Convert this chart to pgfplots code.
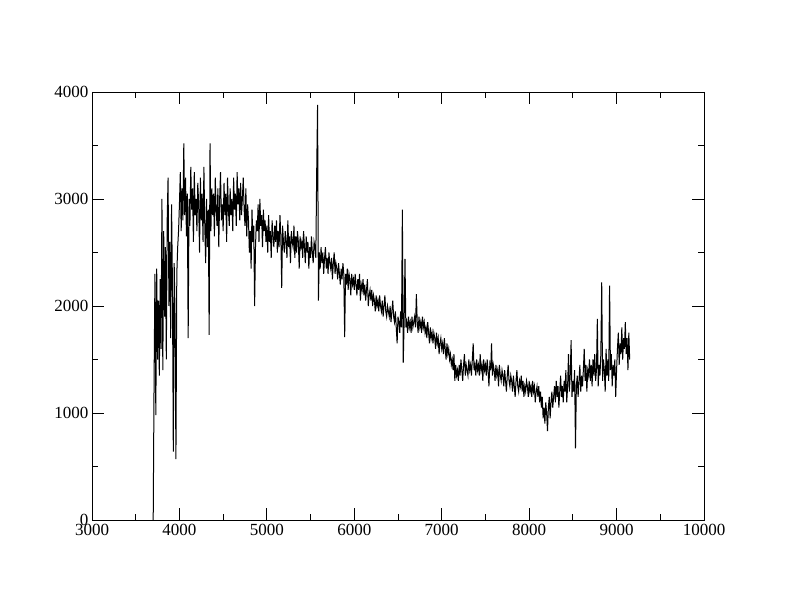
\documentclass[border=0pt]{standalone}
\usepackage{pgfplots}
\pgfplotsset{compat=1.18}
\usepackage{fontspec}
\setmainfont{Liberation Serif}
\begin{document}
\begin{tikzpicture}[x=1pt,y=1pt]
\useasboundingbox (0,0) rectangle (792,612);
\begin{axis}[
  at={(92pt,92pt)}, anchor=south west,
  scale only axis, width=612pt, height=428pt,
  xmin=3000, xmax=10000, ymin=0, ymax=4000,
  xtick={3000,4000,...,10000}, ytick={0,1000,...,4000},
  minor x tick num=1, minor y tick num=1,
  tick align=inside, tick pos=both,
  major tick length=12pt, minor tick length=6pt,
  axis line style={line width=0.8pt}, every tick/.style={black,line width=0.8pt},
  /pgf/number format/assume math mode=true,
  /pgf/number format/set thousands separator={},
  tick label style={font=\fontsize{17}{17}\selectfont, black},
  xticklabel style={yshift=-1pt},
  yticklabel style={xshift=0pt},
  scaled ticks=false,
]
\addplot[black, line width=1pt, mark=none] coordinates {
(3700,0) (3710,1300) (3720,2300) (3730,980) (3740,2350) (3750,1500) (3760,2050) (3770,1350) (3780,2250) (3790,1600)
(3800,3000) (3810,1400) (3820,2700) (3830,1900) (3840,2550) (3850,1500) (3860,2800) (3870,3200) (3880,2000) (3890,2600)
(3900,1700) (3910,2950) (3920,2200) (3930,640) (3940,2400) (3950,1900) (3960,570) (3970,2300) (3980,2550) (3990,2700)
(4000,2950) (4010,3250) (4020,2700) (4030,3100) (4040,2800) (4050,3520) (4060,2850) (4070,3200) (4080,2650) (4090,3050)
(4100,1700) (4110,3000) (4120,2750) (4130,3300) (4140,2900) (4150,3100) (4160,2600) (4170,3250) (4180,2850) (4190,3000)
(4200,2700) (4210,3150) (4220,2950) (4230,2500) (4240,3200) (4250,2800) (4260,3050) (4270,2600) (4280,3300) (4290,2750)
(4300,2400) (4310,3000) (4320,2550) (4330,2900) (4340,1730) (4350,3520) (4360,2700) (4370,3100) (4380,2850) (4390,3050)
(4400,2650) (4410,3200) (4420,2900) (4430,2750) (4440,3100) (4450,2550) (4460,3000) (4470,3250) (4480,2800) (4490,2950)
(4500,2700) (4510,3150) (4520,2850) (4530,3050) (4540,2600) (4550,3200) (4560,2900) (4570,2750) (4580,3100) (4590,2850)
(4600,3000) (4610,2700) (4620,3200) (4630,2900) (4640,3050) (4650,2750) (4660,3250) (4670,2950) (4680,3100) (4690,2800)
(4700,3150) (4710,2850) (4720,3000) (4730,3200) (4740,2900) (4750,2750) (4760,3100) (4770,2650) (4780,2950) (4790,2800)
(4800,2500) (4810,2700) (4820,2350) (4830,2900) (4840,2600) (4850,2750) (4860,2000) (4870,2550) (4880,2800) (4890,2700)
(4900,2950) (4910,2600) (4920,3000) (4930,2750) (4940,2850) (4950,2550) (4960,2900) (4970,2700) (4980,2800) (4990,2600)
(5000,2750) (5010,2500) (5020,2850) (5030,2600) (5040,2700) (5050,2450) (5060,2800) (5070,2650) (5080,2550) (5090,2750)
(5100,2600) (5110,2800) (5120,2500) (5130,2700) (5140,2550) (5150,2850) (5160,2650) (5170,2170) (5180,2750) (5190,2600)
(5200,2500) (5210,2700) (5220,2600) (5230,2450) (5240,2800) (5250,2550) (5260,2650) (5270,2400) (5280,2700) (5290,2600)
(5300,2550) (5310,2750) (5320,2450) (5330,2650) (5340,2500) (5350,2700) (5360,2600) (5370,2350) (5380,2650) (5390,2550)
(5400,2600) (5410,2450) (5420,2700) (5430,2550) (5440,2400) (5450,2650) (5460,2500) (5470,2600) (5480,2350) (5490,2550)
(5500,2450) (5510,2650) (5520,2500) (5530,2400) (5540,2600) (5550,2550) (5560,2450) (5570,3250) (5580,3880) (5590,2050)
(5600,2500) (5610,2350) (5620,2550) (5630,2400) (5640,2500) (5650,2300) (5660,2450) (5670,2550) (5680,2350) (5690,2450)
(5700,2300) (5710,2500) (5720,2400) (5730,2350) (5740,2450) (5750,2250) (5760,2400) (5770,2500) (5780,2300) (5790,2400)
(5800,2350) (5810,2250) (5820,2400) (5830,2300) (5840,2200) (5850,2350) (5860,2250) (5870,2400) (5880,2300) (5890,1710)
(5900,2300) (5910,2200) (5920,2350) (5930,2150) (5940,2300) (5950,2250) (5960,2100) (5970,2300) (5980,2200) (5990,2250)
(6000,2150) (6010,2300) (6020,2200) (6030,2100) (6040,2250) (6050,2150) (6060,2300) (6070,2050) (6080,2200) (6090,2150)
(6100,2250) (6110,2100) (6120,2200) (6130,2050) (6140,2150) (6150,2250) (6160,2000) (6170,2100) (6180,2150) (6190,2050)
(6200,2150) (6210,2000) (6220,2100) (6230,2050) (6240,1950) (6250,2100) (6260,2000) (6270,2050) (6280,1950) (6290,2100)
(6300,2000) (6310,1950) (6320,2050) (6330,1900) (6340,2000) (6350,2100) (6360,1950) (6370,1900) (6380,2000) (6390,1950)
(6400,1900) (6410,2000) (6420,1850) (6430,1950) (6440,2050) (6450,1900) (6460,1850) (6470,1950) (6480,1800) (6490,1650)
(6500,1900) (6510,1850) (6520,1750) (6530,1950) (6540,1800) (6550,2900) (6560,1470) (6570,1850) (6580,2440) (6590,1800)
(6600,1850) (6610,1750) (6620,1900) (6630,1800) (6640,1850) (6650,1750) (6660,1900) (6670,1800) (6680,1850) (6690,1900)
(6700,1800) (6710,2110) (6720,1850) (6730,1750) (6740,1900) (6750,1800) (6760,1850) (6770,1750) (6780,1900) (6790,1800)
(6800,1850) (6810,1750) (6820,1800) (6830,1700) (6840,1850) (6850,1750) (6860,1650) (6870,1800) (6880,1700) (6890,1750)
(6900,1650) (6910,1750) (6920,1700) (6930,1600) (6940,1750) (6950,1650) (6960,1700) (6970,1550) (6980,1650) (6990,1700)
(7000,1600) (7010,1650) (7020,1550) (7030,1700) (7040,1600) (7050,1500) (7060,1650) (7070,1550) (7080,1600) (7090,1500)
(7100,1550) (7110,1450) (7120,1500) (7130,1400) (7140,1550) (7150,1300) (7160,1450) (7170,1350) (7180,1400) (7190,1300)
(7200,1450) (7210,1350) (7220,1500) (7230,1400) (7240,1300) (7250,1450) (7260,1550) (7270,1350) (7280,1450) (7290,1400)
(7300,1350) (7310,1500) (7320,1400) (7330,1450) (7340,1350) (7350,1500) (7360,1650) (7370,1400) (7380,1450) (7390,1350)
(7400,1500) (7410,1400) (7420,1450) (7430,1350) (7440,1550) (7450,1400) (7460,1450) (7470,1300) (7480,1500) (7490,1400)
(7500,1450) (7510,1350) (7520,1500) (7530,1400) (7540,1250) (7550,1450) (7560,1400) (7570,1650) (7580,1350) (7590,1450)
(7600,1400) (7610,1300) (7620,1450) (7630,1350) (7640,1400) (7650,1250) (7660,1450) (7670,1350) (7680,1300) (7690,1400)
(7700,1350) (7710,1250) (7720,1400) (7730,1300) (7740,1200) (7750,1350) (7760,1450) (7770,1300) (7780,1250) (7790,1350)
(7800,1300) (7810,1200) (7820,1350) (7830,1250) (7840,1150) (7850,1300) (7860,1400) (7870,1250) (7880,1200) (7890,1300)
(7900,1250) (7910,1350) (7920,1200) (7930,1300) (7940,1150) (7950,1250) (7960,1200) (7970,1300) (7980,1250) (7990,1150)
(8000,1300) (8010,1200) (8020,1250) (8030,1150) (8040,1300) (8050,1200) (8060,1250) (8070,1100) (8080,1200) (8090,1250)
(8100,1150) (8110,1250) (8120,1100) (8130,1200) (8140,1050) (8150,1150) (8160,950) (8170,1050) (8180,900) (8190,1100)
(8200,1000) (8210,830) (8220,1050) (8230,1150) (8240,950) (8250,1100) (8260,1200) (8270,1050) (8280,1150) (8290,1250)
(8300,1100) (8310,1300) (8320,1150) (8330,1250) (8340,1050) (8350,1200) (8360,1350) (8370,1150) (8380,1250) (8390,1100)
(8400,1300) (8410,1200) (8420,1400) (8430,1100) (8440,1250) (8450,1550) (8460,1200) (8470,1350) (8480,1680) (8490,1150)
(8500,1300) (8510,1200) (8520,1400) (8530,670) (8540,1250) (8550,1350) (8560,1150) (8570,1300) (8580,1450) (8590,1200)
(8600,1350) (8610,1250) (8620,1400) (8630,1600) (8640,1300) (8650,1450) (8660,1200) (8670,1400) (8680,1350) (8690,1500)
(8700,1300) (8710,1450) (8720,1250) (8730,1500) (8740,1350) (8750,1550) (8760,1300) (8770,1400) (8780,1880) (8790,1250)
(8800,1450) (8810,1350) (8820,1550) (8830,2220) (8840,1300) (8850,1500) (8860,1400) (8870,1200) (8880,1600) (8890,1350)
(8900,1500) (8910,1300) (8920,2190) (8930,1400) (8940,1550) (8950,1250) (8960,1450) (8970,1350) (8980,1500) (8990,1150)
(9000,1400) (9010,1600) (9020,1750) (9030,1450) (9040,1650) (9050,1550) (9060,1800) (9070,1500) (9080,1700) (9090,1600)
(9100,1850) (9110,1550) (9120,1700) (9130,1400) (9140,1750) (9150,1500)
};
\end{axis}
\end{tikzpicture}
\end{document}
